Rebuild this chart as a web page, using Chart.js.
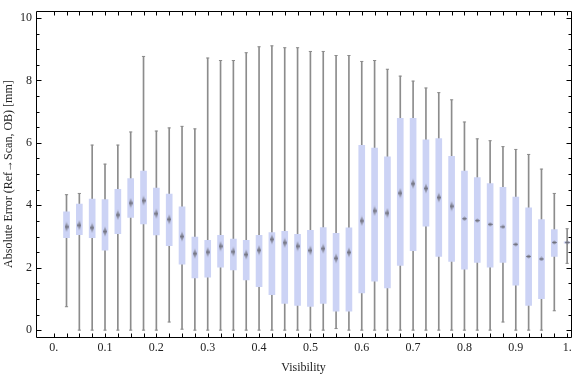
<!DOCTYPE html>
<html>
<head>
<meta charset="utf-8">
<script src="https://cdn.jsdelivr.net/npm/chart.js@4/dist/chart.umd.min.js"></script>
<style>
  body { margin: 0; background: #fff; }
  canvas { display: block; }
</style>
</head>
<body>
<canvas id="chart" width="576" height="377"></canvas>
<script>
// Visibility bins (box positions)
const visibility = [0.025, 0.05, 0.075, 0.1, 0.125, 0.15, 0.175, 0.2, 0.225, 0.25,
  0.275, 0.3, 0.325, 0.35, 0.375, 0.4, 0.425, 0.45, 0.475, 0.5,
  0.525, 0.55, 0.575, 0.6, 0.625, 0.65, 0.675, 0.7, 0.725, 0.75,
  0.775, 0.8, 0.825, 0.85, 0.875, 0.9, 0.925, 0.95, 0.975, 1.0];

// Box-whisker statistics [mm]
const whiskerLow = [0.75, 0, 0, 0, 0, 0, 0, 0, 0.26, 0.03,
  0, 0, 0, 0, 0, 0, 0, 0, 0, 0,
  0, 0.05, 0, 0, 0, 0, 0, 0, 0, 0,
  0, 0, 0, 0, 0.26, 0, 0, 0, 0.62, 2.14];
const quartile1 = [2.96, 3.06, 2.96, 2.56, 3.09, 3.61, 3.40, 3.05, 2.71, 2.11,
  1.67, 1.70, 2.02, 1.93, 1.61, 1.39, 1.14, 0.86, 0.79, 0.76,
  0.86, 0.61, 0.61, 1.19, 1.57, 1.35, 2.07, 2.55, 3.33, 2.36,
  2.20, 1.95, 2.17, 2.02, 2.17, 1.44, 0.79, 1.01, 2.36, 2.79];
const medians = [3.31, 3.36, 3.28, 3.16, 3.69, 4.07, 4.15, 3.73, 3.55, 3.00,
  2.45, 2.50, 2.69, 2.51, 2.42, 2.56, 2.91, 2.80, 2.69, 2.55,
  2.61, 2.30, 2.49, 3.50, 3.82, 3.75, 4.39, 4.69, 4.54, 4.25,
  3.97, 3.57, 3.51, 3.39, 3.31, 2.75, 2.36, 2.28, 2.81, 2.81];
const quartile3 = [3.79, 4.04, 4.20, 4.18, 4.51, 4.86, 5.10, 4.55, 4.36, 3.95,
  2.98, 2.88, 3.04, 2.92, 2.88, 3.04, 3.13, 3.17, 3.07, 3.20,
  3.29, 3.10, 3.28, 5.92, 5.83, 5.55, 6.79, 6.79, 6.10, 6.14,
  5.57, 5.10, 4.89, 4.70, 4.58, 4.26, 3.92, 3.54, 3.22, 2.83];
const whiskerHigh = [4.34, 4.38, 5.93, 5.32, 5.93, 6.35, 8.77, 6.38, 6.48, 6.53,
  6.45, 8.72, 8.64, 8.64, 8.89, 9.08, 9.11, 9.05, 9.05, 8.93,
  8.93, 8.80, 8.80, 8.61, 8.64, 8.36, 8.14, 7.98, 7.76, 7.61,
  7.38, 6.67, 6.13, 6.07, 5.88, 5.79, 5.63, 5.16, 4.38, 3.25];

const BOX_COLOR = 'rgb(204, 211, 245)';
const WHISKER_COLOR = '#8c8c8c';
const FONT = 'Liberation Serif';

// Median marker: a small gray diamond, blurred towards the tips
function makeMarker(w, h, alpha) {
  const c = document.createElement('canvas');
  c.width = w;
  c.height = h;
  const g = c.getContext('2d');
  const grad = g.createLinearGradient(0, 0, 0, h);
  grad.addColorStop(0, 'rgba(110, 110, 120, 0.15)');
  grad.addColorStop(0.5, `rgba(100, 100, 110, ${alpha})`);
  grad.addColorStop(1, 'rgba(110, 110, 120, 0.15)');
  g.beginPath();
  g.moveTo(w / 2, 0);
  g.lineTo(w, h / 2);
  g.lineTo(w / 2, h);
  g.lineTo(0, h / 2);
  g.closePath();
  g.fillStyle = grad;
  g.fill();
  return c;
}
const tallMarker = makeMarker(4, 11, 0.85);
const smallMarker = makeMarker(5, 5, 0.9);

// Frame with inward ticks, drawn from the chart's own scales
const framePlugin = {
  id: 'frame',
  afterDraw(chart) {
    const { ctx, chartArea: a, scales } = chart;
    const x = scales.x;
    const y = scales.y;
    const L = Math.floor(a.left) + 0.5;
    const R = Math.floor(a.right) + 0.5;
    const T = Math.floor(a.top) + 0.5;
    const B = Math.floor(a.bottom) + 0.5;
    ctx.save();
    ctx.strokeStyle = '#000';
    ctx.lineWidth = 1;
    ctx.beginPath();
    ctx.rect(L, T, R - L, B - T);
    for (let i = 0; i <= 40; i++) {
      const px = Math.round(x.getPixelForValue(i * 0.025)) + 0.5;
      ctx.moveTo(px, B);
      ctx.lineTo(px, B - 4);
      ctx.moveTo(px, T);
      ctx.lineTo(px, T + 4);
    }
    for (let i = 0; i <= 20; i++) {
      const py = Math.round(y.getPixelForValue(i * 0.5)) + 0.5;
      const len = i % 4 === 0 ? 5 : 3;
      ctx.moveTo(L, py);
      ctx.lineTo(L + len, py);
      ctx.moveTo(R, py);
      ctx.lineTo(R - len, py);
    }
    ctx.stroke();
    ctx.restore();
  },
};

const whiskerData = visibility.map((v, i) => ({ x: v, y: [whiskerLow[i], whiskerHigh[i]] }));
const boxData = visibility.map((v, i) => ({ x: v, y: [quartile1[i], quartile3[i]] }));
const capData = visibility
  .map((v, i) => ({ x: v, y: whiskerLow[i] }))
  .concat(visibility.map((v, i) => ({ x: v, y: whiskerHigh[i] })));
const medianData = visibility.map((v, i) => ({ x: v, y: medians[i] }));

new Chart(document.getElementById('chart'), {
  data: {
    datasets: [
      {
        type: 'bar',
        data: whiskerData,
        backgroundColor: WHISKER_COLOR,
        barThickness: 1,
        grouped: false,
        order: 3,
      },
      {
        type: 'bar',
        data: boxData,
        backgroundColor: BOX_COLOR,
        barThickness: 6,
        grouped: false,
        order: 2,
      },
      {
        type: 'scatter',
        data: capData,
        pointStyle: 'line',
        pointRadius: 1.6,
        borderColor: WHISKER_COLOR,
        borderWidth: 1,
        order: 1,
      },
      {
        type: 'scatter',
        data: medianData,
        pointStyle: (ctx) => (ctx.raw && ctx.raw.x >= 0.8 ? smallMarker : tallMarker),
        order: 0,
      },
    ],
  },
  options: {
    responsive: false,
    animation: false,
    events: [],
    layout: { padding: { top: 4, right: 1, left: 0, bottom: 0 } },
    plugins: { legend: { display: false }, tooltip: { enabled: false } },
    scales: {
      x: {
        type: 'linear',
        offset: false,
        min: -0.0344,
        max: 1.0075,
        grid: { display: false, drawTicks: false },
        border: { display: false },
        afterFit(scale) { scale.height = 40; },
        ticks: {
          stepSize: 0.1,
          includeBounds: false,
          autoSkip: false,
          maxRotation: 0,
          padding: 4,
          color: '#222',
          font: { family: FONT, size: 12 },
          callback: (v) => {
            const r = Math.round(v * 10) / 10;
            return r === 0 ? '0.' : r === 1 ? '1.' : r.toFixed(1);
          },
        },
        title: {
          display: true,
          text: 'Visibility',
          color: '#222',
          font: { family: FONT, size: 12 },
          padding: { top: 0, bottom: 2 },
        },
      },
      y: {
        type: 'linear',
        min: -0.22,
        max: 10.22,
        grid: { display: false, drawTicks: false },
        border: { display: false },
        afterFit(scale) { scale.width = 36; },
        ticks: {
          stepSize: 2,
          includeBounds: false,
          padding: 4,
          color: '#222',
          font: { family: FONT, size: 12 },
        },
        title: {
          display: true,
          text: 'Absolute Error (Ref\u2192Scan, OB) [mm]',
          color: '#222',
          font: { family: FONT, size: 12 },
          padding: { top: 2, bottom: 0 },
        },
      },
    },
  },
  plugins: [framePlugin],
});
</script>
</body>
</html>
